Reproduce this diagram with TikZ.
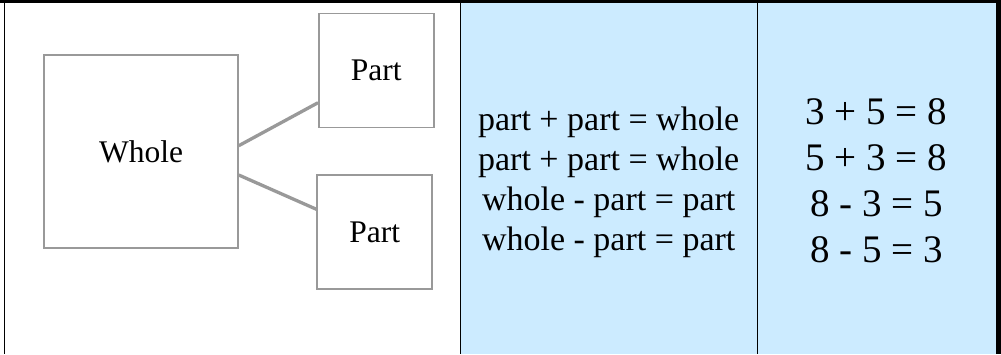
\documentclass[tikz,border=0pt]{standalone}
\usepackage{fontspec}
\setmainfont{LiberationSerif-Regular.ttf}
\definecolor{cellblue}{RGB}{204,235,255}
\definecolor{boxgray}{RGB}{153,153,153}
\begin{document}
\begin{tikzpicture}[x=1pt,y=-1pt,
  box/.style={draw=boxgray, line width=1.5pt, inner sep=0pt, font=\fontsize{31.5}{38}\selectfont},
  link/.style={draw=boxgray, line width=3.3pt},
  rule/.style={black, line width=1.3pt},
  sumtext/.style={anchor=base, inner sep=0pt, font=\fontsize{34}{40}\selectfont},
  numtext/.style={anchor=base, inner sep=0pt, font=\fontsize{39}{46}\selectfont}]

\useasboundingbox (0,0) rectangle (1001,354);

\fill [white] (0,0) rectangle (1001,354);
\fill [cellblue] (460.5,3) rectangle (996,354);
\fill [black] (0,0) rectangle (1001,3);
\fill [black] (996,0) rectangle (1001,354);

\draw [rule] (4.6,3) -- (4.6,354);
\draw [rule] (460.5,3) -- (460.5,354);
\draw [rule] (757.3,3) -- (757.3,354);

\node [box, minimum width=194pt, minimum height=193pt] (whole) at (141,151.5) {Whole};
\node [box, minimum width=115pt, minimum height=114pt] (parta) at (376.3,70.3) {Part};
\node [box, minimum width=115pt, minimum height=114pt] (partb) at (374.7,232.2) {Part};

\draw [link] ([yshift=5.8pt]whole.east) -- ([yshift=-32.4pt]parta.west);
\draw [link] ([yshift=-23.5pt]whole.east) -- ([yshift=22.9pt]partb.west);

\node [sumtext] (suma) at (608.7,130.7) {part + part = whole};
\node [sumtext] (sumb) at (608.7,170.7) {part + part = whole};
\node [sumtext] (difa) at (608.7,210.7) {whole - part = part};
\node [sumtext] (difb) at (608.7,250.3) {whole - part = part};

\node [numtext] (numa) at (876.3,124.3) {3 + 5 = 8};
\node [numtext] (numb) at (876.3,170) {5 + 3 = 8};
\node [numtext] (numc) at (876.3,216.3) {8 - 3 = 5};
\node [numtext] (numd) at (876.3,262) {8 - 5 = 3};

\end{tikzpicture}
\end{document}
